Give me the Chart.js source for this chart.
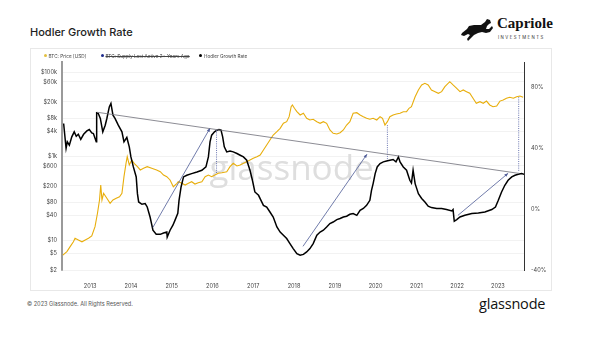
<!DOCTYPE html>
<html>
<head>
<meta charset="utf-8">
<script src="https://cdn.jsdelivr.net/npm/chart.js@4.4.0/dist/chart.umd.min.js"></script>
<style>
    body { margin: 0; width: 600px; height: 346px; background: #fff; position: relative; overflow: hidden; font-family: Inter, "Noto Sans", sans-serif; }
    #title { position: absolute; left: 30px; top: 25px; font-size: 11px; font-weight: 500; color: #1d1d1d; }
    #card { position: absolute; left: 30px; top: 48px; width: 520px; height: 241px; border: 1px solid #e8e8e8; }
    #chartCanvas { position: absolute; left: 30px; top: 48px; }
    #legend { position: absolute; left: 0; top: 0; }
    .lg { position: absolute; top: 53.5px; font-size: 4.7px; color: #444; white-space: nowrap; line-height: 5px; }
    .lg i { display: inline-block; width: 3px; height: 3px; border-radius: 50%; margin-right: 2px; vertical-align: 0.3px; }
    .lg.off span { text-decoration: line-through; }
    #copy { position: absolute; left: 27px; top: 301px; font-size: 5.6px; color: #555; }
    #gn { position: absolute; left: 479px; top: 294px; font-size: 14.5px; color: #111; font-family: "Open Sans", sans-serif; letter-spacing: -0.2px; }
    #logo { position: absolute; left: 460px; top: 17px; width: 92px; height: 28px; }
    #capText { position: absolute; left: 497px; top: 15px; font-family: "Liberation Serif", "DejaVu Serif", serif; font-weight: bold; font-size: 15px; color: #111; }
    #capSub { position: absolute; left: 498px; top: 35px; font-size: 4.3px; letter-spacing: 1.45px; color: #333; }
</style>
</head>
<body>
<div id="title">Hodler Growth Rate</div>
<svg id="logo" viewBox="0 0 92 28">
    <!-- rough leaping horse -->
    <path d="M2 16 L7 12 L9 9 L14 8 L21 8 L25 5 L27 2 L30 3 L31 6 L29 7 L27 9 L26 12 L29 12 L32 9 L33 11 L30 15 L26 16 L22 15 L18 16 L14 18 L10 22 L8 24 L7 22 L10 18 L8 17 L4 19 L1 18 Z" fill="#111"/>
</svg>
<div id="capText">Capriole</div>
<div id="capSub">INVESTMENTS</div>
<div id="card"></div>
<canvas id="chartCanvas" width="521" height="242"></canvas>
<div id="legend"></div>
<div id="copy">© 2023 Glassnode. All Rights Reserved.</div>
<div id="gn">glassnode</div>

<script>
// axis ticks
const yearTicks = [2013, 2014, 2015, 2016, 2017, 2018, 2019, 2020, 2021, 2022, 2023];
const priceTicks = [2, 5, 10, 40, 80, 200, 600, 1000, 4000, 8000, 20000, 60000, 100000];
const priceTickLabels = ['$2', '$5', '$10', '$40', '$80', '$200', '$600', '$1k', '$4k', '$8k', '$20k', '$60k', '$100k'];
const hgrTicks = [-40, 0, 40, 80];
const hgrTickLabels = ['-40%', '0%', '40%', '80%'];

// BTC price (USD)
const priceYears = [2012.33, 2012.43, 2012.51, 2012.59, 2012.63, 2012.71, 2012.80, 2012.88, 2012.96, 2013.04,
    2013.12, 2013.18, 2013.23, 2013.26, 2013.29, 2013.33, 2013.41, 2013.49, 2013.56, 2013.64,
    2013.72, 2013.78, 2013.83, 2013.88, 2013.91, 2013.96, 2014.02, 2014.08, 2014.16, 2014.23,
    2014.31, 2014.40, 2014.51, 2014.63, 2014.72, 2014.80, 2014.88, 2014.96, 2015.04, 2015.13,
    2015.16, 2015.25, 2015.33, 2015.41, 2015.49, 2015.57, 2015.65, 2015.74, 2015.82, 2015.90,
    2015.98, 2016.06, 2016.14, 2016.23, 2016.35, 2016.43, 2016.51, 2016.60, 2016.68, 2016.76,
    2016.84, 2016.92, 2017.00, 2017.09, 2017.17, 2017.25, 2017.33, 2017.41, 2017.49, 2017.58,
    2017.66, 2017.74, 2017.82, 2017.88, 2017.93, 2017.96, 2018.01, 2018.07, 2018.15, 2018.23,
    2018.31, 2018.39, 2018.47, 2018.56, 2018.64, 2018.72, 2018.80, 2018.88, 2018.96, 2019.05,
    2019.13, 2019.21, 2019.29, 2019.37, 2019.45, 2019.54, 2019.62, 2019.70, 2019.78, 2019.86,
    2019.94, 2020.03, 2020.11, 2020.17, 2020.23, 2020.29, 2020.35, 2020.43, 2020.51, 2020.60,
    2020.68, 2020.76, 2020.82, 2020.88, 2020.97, 2021.05, 2021.13, 2021.21, 2021.29, 2021.37,
    2021.46, 2021.54, 2021.62, 2021.70, 2021.82, 2021.90, 2021.99, 2022.07, 2022.15, 2022.23,
    2022.31, 2022.39, 2022.47, 2022.56, 2022.64, 2022.72, 2022.80, 2022.88, 2022.97, 2023.05,
    2023.13, 2023.21, 2023.29, 2023.38, 2023.46, 2023.54, 2023.62];
const priceValues = [4.5, 5.5, 7.2, 9.4, 11.4, 10.4, 9.4, 10.4, 11.4, 12.9,
    21.5, 44.8, 93, 211, 93, 134, 102, 77, 93, 102,
    111, 134, 333, 694, 997, 632, 832, 694, 576, 481,
    528, 576, 528, 481, 438, 365, 333, 278, 192, 232,
    253, 232, 211, 232, 253, 223, 240, 253, 333, 365,
    333, 365, 401, 415, 438, 576, 694, 599, 632, 694,
    758, 832, 914, 997, 1094, 1439, 1893, 2490, 3275, 3926,
    4730, 6220, 6790, 8930, 15450, 16980, 14160, 11750, 9800, 10770,
    8180, 7450, 7740, 6790, 6220, 6790, 6220, 4310, 3590, 3460,
    3720, 4310, 5660, 6790, 10770, 11120, 9800, 8930, 8180, 7740,
    8180, 7450, 8930, 8180, 5660, 6790, 8930, 9800, 10360, 10770,
    11750, 11750, 14160, 15450, 26700, 38600, 50800, 55700, 50800, 38600,
    35200, 32200, 35200, 46200, 60800, 50800, 42400, 35200, 38600, 35200,
    32200, 24500, 18600, 20300, 18600, 21000, 16980, 15450, 16070, 21000,
    22300, 24500, 25900, 24500, 26700, 27800, 25900];

// Hodler Growth Rate (%)
const hgrYears = [2012.35, 2012.41, 2012.44, 2012.49, 2012.55, 2012.61, 2012.66, 2012.71, 2012.77, 2012.84,
    2012.92, 2012.98, 2013.04, 2013.08, 2013.15, 2013.16, 2013.20, 2013.25, 2013.31, 2013.37,
    2013.41, 2013.47, 2013.51, 2013.56, 2013.61, 2013.69, 2013.78, 2013.83, 2013.90, 2013.96,
    2014.00, 2014.06, 2014.13, 2014.16, 2014.19, 2014.27, 2014.35, 2014.40, 2014.47, 2014.54,
    2014.62, 2014.72, 2014.80, 2014.88, 2014.89, 2014.96, 2015.03, 2015.08, 2015.15, 2015.18,
    2015.23, 2015.29, 2015.37, 2015.49, 2015.62, 2015.74, 2015.84, 2015.90, 2015.94, 2015.98,
    2016.05, 2016.11, 2016.16, 2016.21, 2016.25, 2016.29, 2016.35, 2016.43, 2016.51, 2016.60,
    2016.68, 2016.76, 2016.84, 2016.92, 2016.98, 2017.04, 2017.13, 2017.19, 2017.25, 2017.33,
    2017.41, 2017.49, 2017.58, 2017.66, 2017.74, 2017.82, 2017.90, 2017.98, 2018.07, 2018.15,
    2018.23, 2018.31, 2018.39, 2018.47, 2018.56, 2018.64, 2018.72, 2018.80, 2018.88, 2018.96,
    2019.05, 2019.13, 2019.21, 2019.29, 2019.37, 2019.45, 2019.54, 2019.62, 2019.70, 2019.78,
    2019.86, 2019.90, 2019.94, 2019.99, 2020.04, 2020.11, 2020.19, 2020.27, 2020.35, 2020.43,
    2020.50, 2020.56, 2020.60, 2020.68, 2020.76, 2020.80, 2020.84, 2020.88, 2020.92, 2020.97,
    2021.01, 2021.05, 2021.13, 2021.21, 2021.29, 2021.37, 2021.50, 2021.62, 2021.74, 2021.87,
    2021.90, 2021.93, 2021.99, 2022.07, 2022.19, 2022.36, 2022.52, 2022.68, 2022.85, 2022.94,
    2023.01, 2023.09, 2023.17, 2023.25, 2023.34, 2023.42, 2023.50, 2023.58, 2023.64];
const hgrValues = [56.5, 40.2, 44.4, 42.2, 47.7, 51.0, 48.1, 49.4, 46.1, 49.4,
    51.6, 52.5, 50.3, 49.9, 44.4, 63.5, 63.1, 59.8, 51.0, 55.4,
    59.8, 67.4, 69.7, 62.0, 59.8, 55.4, 51.0, 44.4, 47.3, 41.1,
    34.5, 27.9, 21.3, 10.3, 4.8, 3.3, 3.8, 1.5, -5.1, -13.8,
    -16.5, -16.5, -15.6, -15.0, -18.3, -13.8, -10.5, -7.3, -2.6, 5.9,
    14.7, 21.3, 22.4, 23.5, 24.6, 25.7, 27.9, 34.5, 44.4, 48.8,
    51.0, 52.1, 52.5, 52.1, 47.7, 41.1, 37.8, 38.4, 37.8, 36.7,
    35.6, 34.5, 32.3, 25.7, 19.1, 11.4, 9.2, 5.9, 2.6, 1.5,
    -1.8, -5.1, -11.7, -15.0, -17.1, -19.3, -22.6, -25.9, -29.2, -30.3,
    -29.7, -28.1, -25.9, -22.6, -17.1, -15.0, -13.8, -11.7, -9.4, -8.4,
    -6.8, -6.1, -5.1, -4.6, -3.3, -2.8, -4.0, -0.7, 0.5, 2.6,
    5.9, 12.5, 16.9, 23.5, 27.9, 30.1, 31.2, 31.8, 32.3, 32.8,
    31.2, 34.5, 31.2, 27.9, 25.7, 22.4, 19.1, 17.3, 25.7, 16.9,
    13.6, 10.3, 7.1, 4.8, 2.0, 1.1, 0.5, 0.5, -0.2, -1.1,
    -0.2, -7.9, -6.8, -5.1, -4.0, -2.8, -2.4, -1.8, -0.2, 1.5,
    5.9, 11.4, 15.8, 19.1, 21.3, 22.4, 23.1, 23.5, 23.1];

// hand-drawn annotations (on the growth-rate axis)
const trendYears = [2013.17, 2023.50];
const trendValues = [63.9, 23.7];
const arrowYears = [[2014.54, 2015.94], [2018.22, 2019.79], [2022.02, 2023.25]];
const arrowValues = [[-11.9, 53.4], [-24.4, 36.3], [-4.0, 23.7]];
const dropYears = [2016.10, 2020.29, 2023.51];
const dropFrom = [52.1, 55.4, 73.8];
const dropTo = [23.7, 32.3, 24.4];

const toPoints = (xs, ys) => xs.map((x, i) => ({ x: x, y: ys[i] }));

const datasets = [
    {
        label: 'BTC: Price [USD]',
        data: toPoints(priceYears, priceValues),
        yAxisID: 'y',
        borderColor: '#e8ae0c',
        backgroundColor: '#e3c040',
        borderWidth: 1.1,
        order: 2
    },
    {
        label: 'BTC: Supply Last Active 2+ Years Ago',
        data: [],
        yAxisID: 'yR',
        borderColor: '#1c2a8c',
        backgroundColor: '#1c2a8c',
        hidden: true
    },
    {
        label: 'Hodler Growth Rate',
        data: toPoints(hgrYears, hgrValues),
        yAxisID: 'yR',
        borderColor: '#000',
        backgroundColor: '#000',
        borderWidth: 1.5,
        order: 1
    },
    {
        label: 'trend',
        data: toPoints(trendYears, trendValues),
        yAxisID: 'yR',
        borderColor: '#6e6e78',
        borderWidth: 0.8,
        order: 0
    }
];
arrowYears.forEach((xs, i) => {
    datasets.push({
        label: 'arrow',
        data: toPoints(xs, arrowValues[i]),
        yAxisID: 'yR',
        borderColor: '#4d5a96',
        borderWidth: 0.8,
        arrowHead: true,
        order: 0
    });
});
dropYears.forEach((x, i) => {
    datasets.push({
        label: 'drop',
        data: [{ x: x, y: dropFrom[i] }, { x: x, y: dropTo[i] }],
        yAxisID: 'yR',
        borderColor: '#5a67a8',
        borderWidth: 0.9,
        borderDash: [1, 1.2],
        order: 0
    });
});

// html legend for the three real series
const legendLeft = [43.5, 100.5, 199];
const legendEl = document.getElementById('legend');
datasets.slice(0, 3).forEach((ds, i) => {
    const item = document.createElement('div');
    item.className = 'lg' + (ds.hidden ? ' off' : '');
    item.style.left = legendLeft[i] + 'px';
    item.innerHTML = '<i style="background:' + ds.backgroundColor + '"></i><span>' + ds.label + '</span>';
    legendEl.appendChild(item);
});

const watermark = {
    id: 'watermark',
    beforeDatasetsDraw(chart) {
        const ctx = chart.ctx;
        const a = chart.chartArea;
        ctx.save();
        ctx.font = '400 35px "Open Sans", Lato, sans-serif';
        ctx.fillStyle = '#dedede';
        ctx.textAlign = 'center';
        ctx.fillText('glassnode', a.left + (a.right - a.left) * 0.497, a.top + (a.bottom - a.top) * 0.567);
        ctx.restore();
    }
};

const arrowHeads = {
    id: 'arrowHeads',
    afterDatasetsDraw(chart) {
        const ctx = chart.ctx;
        chart.data.datasets.forEach((ds, i) => {
            if (!ds.arrowHead) return;
            const pts = chart.getDatasetMeta(i).data;
            const p0 = pts[0], p1 = pts[1];
            const ang = Math.atan2(p1.y - p0.y, p1.x - p0.x);
            const s = 4;
            ctx.save();
            ctx.fillStyle = ds.borderColor;
            ctx.beginPath();
            ctx.moveTo(p1.x, p1.y);
            ctx.lineTo(p1.x - s * Math.cos(ang - 0.4), p1.y - s * Math.sin(ang - 0.4));
            ctx.lineTo(p1.x - s * Math.cos(ang + 0.4), p1.y - s * Math.sin(ang + 0.4));
            ctx.closePath();
            ctx.fill();
            ctx.restore();
        });
    }
};

const tickFont = { family: 'Inter, "Noto Sans", sans-serif', size: 5.6 };

new Chart(document.getElementById('chartCanvas').getContext('2d'), {
    type: 'line',
    data: { datasets: datasets },
    plugins: [watermark, arrowHeads],
    options: {
        responsive: false,
        animation: false,
        elements: { point: { radius: 0 }, line: { tension: 0 } },
        layout: { padding: { top: 14, left: 0, right: 0, bottom: 0 } },
        plugins: {
            tooltip: { enabled: false },
            legend: { display: false }
        },
        scales: {
            x: {
                type: 'linear',
                min: 2012.31,
                max: 2023.64,
                afterBuildTicks: s => { s.ticks = yearTicks.map(v => ({ value: v })); },
                afterFit: s => { s.height = 20; },
                grid: { display: false },
                border: { display: false },
                ticks: { font: tickFont, color: '#444', padding: 5, maxRotation: 0, autoSkip: false, callback: v => String(v) }
            },
            y: {
                type: 'logarithmic',
                position: 'left',
                min: 2,
                max: 179000,
                afterBuildTicks: s => { s.ticks = priceTicks.map(v => ({ value: v })); },
                afterFit: s => { s.width = 32; },
                grid: { color: '#ededed', lineWidth: 0.7, drawTicks: false },
                border: { display: true, color: '#9a9a9a', width: 2 },
                ticks: { font: tickFont, color: '#444', padding: 5, autoSkip: false, callback: (v, i) => priceTickLabels[i] }
            },
            yR: {
                type: 'linear',
                position: 'right',
                min: -40,
                max: 97,
                afterBuildTicks: s => { s.ticks = hgrTicks.map(v => ({ value: v })); },
                afterFit: s => { s.width = 27; },
                grid: { display: false, drawTicks: false },
                border: { display: true, color: '#333', width: 1 },
                ticks: { font: tickFont, color: '#444', padding: 7, autoSkip: false, callback: (v, i) => hgrTickLabels[i] }
            }
        }
    }
});
</script>
</body>
</html>
